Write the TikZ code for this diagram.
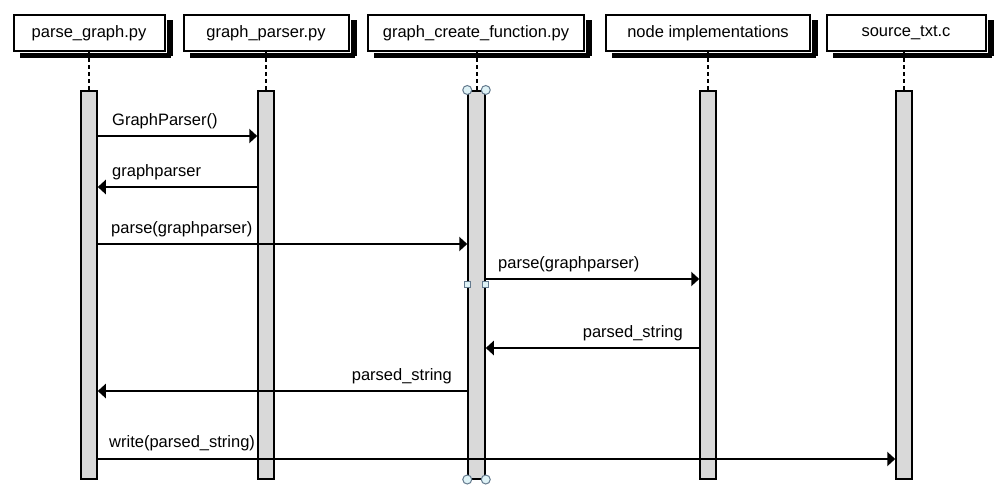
\documentclass[tikz,border=0pt]{standalone}
\usepackage{fontspec}
\setmainfont{Liberation Sans}
\usetikzlibrary{arrows.meta}
\definecolor{bargray}{RGB}{217,217,217}
\definecolor{handlefill}{RGB}{222,242,246}
\definecolor{handledraw}{RGB}{100,122,142}
\tikzset{
  head/.style={
    draw=black,
    fill=white,
    line width=2pt,
    minimum height=36pt,
    inner sep=0pt,
    font=\fontsize{16.5}{19}\selectfont
  },
  headshadow/.style={fill=black, draw=none},
  bar/.style={
    draw=black,
    fill=bargray,
    line width=1.5pt,
    minimum height=388pt,
    inner sep=0pt,
    anchor=north
  },
  lifeline/.style={line width=2pt, dash pattern=on 4pt off 3pt},
  msg/.style={line width=2pt, -{Triangle[length=8pt, width=14pt]}},
  lbl/.style={inner sep=0pt, font=\fontsize{16.5}{19}\selectfont},
  handle-round/.style={
    circle,
    draw=handledraw,
    fill=handlefill,
    line width=1pt,
    minimum size=9pt,
    inner sep=0pt
  },
  handle-square/.style={
    rectangle,
    draw=handledraw,
    fill=handlefill,
    line width=1pt,
    minimum size=6pt,
    inner sep=0pt
  }
}

\begin{document}
\begin{tikzpicture}[x=1pt, y=-1pt]
  \path[fill=white] (0,0) rectangle (1000,503);
  \useasboundingbox (0,0) rectangle (1000,503);

  % participants, each with a solid black shadow
  \foreach \n/\cx/\w/\t in {h1/89/151/parse\_graph.py,
                            h2/266/165/graph\_parser.py,
                            h3/476/216/graph\_create\_function.py,
                            h4/708/204/node implementations,
                            h5/906/159/source\_txt.c} {
    \node[head, minimum width=\w pt] (\n) at (\cx,33) {\t};
    \path[headshadow] (\n.south west) ++(7,1) rectangle ++(\w,5);
    \path[headshadow] (\n.north east) ++(1,6) rectangle ++(6,36);
  }

  % activation bars
  \node[bar, minimum width=16pt] (b1) at (89,90) {};
  \node[bar, minimum width=16pt] (b2) at (266,90) {};
  \node[bar, minimum width=17pt] (b3) at (476.5,90) {};
  \node[bar, minimum width=16pt] (b4) at (708,90) {};
  \node[bar, minimum width=16pt] (b5) at (904,90) {};

  \foreach \i in {1,...,5} {
    \draw[lifeline] (b\i.north) ++(0,-39) -- (b\i.north);
  }

  % messages
  \draw[msg] (b1.east |- 0,136) -- (b2.west |- 0,136);
  \node[lbl, anchor=base west] (m1) at (112,125) {GraphParser()};
  \draw[msg] (b2.west |- 0,187) -- (b1.east |- 0,187);
  \node[lbl, anchor=base west] (m2) at (112,176) {graphparser};
  \draw[msg] (b1.east |- 0,244) -- (b3.west |- 0,244);
  \node[lbl, anchor=base west] (m3) at (111,233) {parse(graphparser)};
  \draw[msg] (b3.east |- 0,279) -- (b4.west |- 0,279);
  \node[lbl, anchor=base west] (m4) at (498,268) {parse(graphparser)};
  \draw[msg] (b4.west |- 0,348) -- (b3.east |- 0,348);
  \node[lbl, anchor=base east] (m5) at (683,337) {parsed\_string};
  \draw[msg] (b3.west |- 0,391) -- (b1.east |- 0,391);
  \node[lbl, anchor=base east] (m6) at (452,380) {parsed\_string};
  \draw[msg] (b1.east |- 0,459) -- (b5.west |- 0,459);
  \node[lbl, anchor=base west] (m7) at (109,447) {write(parsed\_string)};

  % selection handles
  \foreach \a in {north west,north east,south west,south east} {
    \node[handle-round] at (b3.\a) {};
  }
  \node[handle-square] at (b3.west |- 0,284) {};
  \node[handle-square] at (b3.east |- 0,284) {};
\end{tikzpicture}
\end{document}
